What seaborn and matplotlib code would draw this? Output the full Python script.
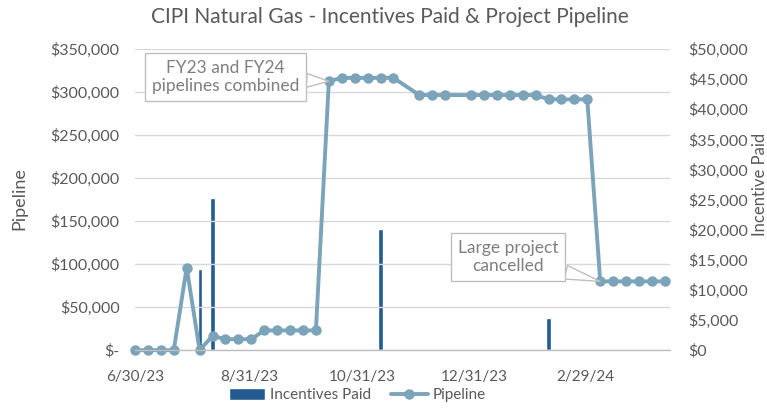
import pandas as pd
import numpy as np
import matplotlib
matplotlib.use('Agg')
import matplotlib.pyplot as plt
import seaborn as sns

# Weekly pipeline snapshots (Fridays)

week_dates = ['2023-06-30', '2023-07-07', '2023-07-14', '2023-07-21',
              '2023-07-28', '2023-08-04', '2023-08-11', '2023-08-18',
              '2023-08-25', '2023-09-01', '2023-09-08', '2023-09-15',
              '2023-09-22', '2023-09-29', '2023-10-06', '2023-10-13',
              '2023-10-20', '2023-10-27', '2023-11-03', '2023-11-10',
              '2023-11-17', '2023-12-01', '2023-12-08', '2023-12-15',
              '2023-12-29', '2024-01-05', '2024-01-12', '2024-01-19',
              '2024-01-26', '2024-02-02', '2024-02-09', '2024-02-16',
              '2024-02-23', '2024-03-01', '2024-03-08', '2024-03-15',
              '2024-03-22', '2024-03-29', '2024-04-05', '2024-04-12']

pipeline = [0, 0, 0, 0,
            96000, 0, 16500, 12800,
            12800, 12800, 23000, 23000,
            23000, 23000, 23000, 312500,
            316500, 316500, 316500, 316500,
            316500, 296500, 296500, 296500,
            296500, 296500, 296500, 296500,
            296500, 296500, 291500, 291500,
            291500, 291500, 80000, 80000,
            80000, 80000, 80000, 80000]

# Incentive payments

paid_dates = ['2023-08-04', '2023-08-11', '2023-11-10', '2024-02-09']
paid = [13400, 25200, 20100, 5300]

tick_dates = ['2023-06-30', '2023-08-31', '2023-10-31', '2023-12-31',
              '2024-02-29']
tick_labels = ['6/30/23', '8/31/23', '10/31/23', '12/31/23', '2/29/24']

df = pd.DataFrame({'date': pd.to_datetime(week_dates), 'Pipeline': pipeline})
dp = pd.DataFrame({'date': pd.to_datetime(paid_dates), 'Incentives Paid': paid})

# %%

sns.set_style('white')
plt.rcParams['font.family'] = ['Lato', 'DejaVu Sans']

grey = '#595959'
line_col = '#7BA3BA'
bar_col = '#245C91'

fig = plt.figure(figsize=(7.67, 4.12), dpi=100)
ax = fig.add_axes([0.176, 0.150, 0.698, 0.731])
ax2 = ax.twinx()

# bars on the secondary axis, line drawn on top
bars = ax2.bar(dp['date'], dp['Incentives Paid'], width=2.2, color=bar_col,
               label='Incentives Paid')
sns.lineplot(data=df, x='date', y='Pipeline', ax=ax, color=line_col,
             linewidth=2.8, marker='o', markersize=7.5, markeredgewidth=0,
             label='Pipeline', legend=False, clip_on=False)

ax.set_zorder(ax2.get_zorder() + 1)
ax.patch.set_visible(False)

ax.set_xlim(pd.Timestamp('2023-06-30'), pd.Timestamp('2024-04-15'))
ax.set_ylim(0, 350000)
ax2.set_ylim(0, 50000)

ax.set_yticks(np.arange(0, 350001, 50000))
ax.set_yticklabels(['$-'] + ['${:,.0f}'.format(v) for v in
                             np.arange(50000, 350001, 50000)])
ax2.set_yticks(np.arange(0, 50001, 5000))
ax2.set_yticklabels(['${:,.0f}'.format(v) for v in np.arange(0, 50001, 5000)])

ax.set_xticks(pd.to_datetime(tick_dates))
ax.set_xticklabels(tick_labels)

ax.grid(axis='y', color='#D9D9D9', linewidth=1)
ax.set_axisbelow(True)

for a in (ax, ax2):
    for s in ['top', 'left', 'right', 'bottom']:
        a.spines[s].set_visible(False)
ax.spines['bottom'].set_visible(True)
ax.spines['bottom'].set_color('#BFBFBF')
ax.spines['bottom'].set_linewidth(1)

ax.tick_params(axis='x', colors='#BFBFBF', labelcolor=grey, labelsize=11,
               direction='inout', length=8, pad=10)
ax.tick_params(axis='y', length=0, labelcolor=grey, labelsize=11.5, pad=11)
ax2.tick_params(axis='y', length=0, labelcolor=grey, labelsize=11.5, pad=13)

ax.set_xlabel('')
ax.set_ylabel('')
ax2.set_ylabel('')

fig.text(0.025, 1 - 199 / 412, 'Pipeline', rotation=90, color=grey,
         fontsize=13, ha='center', va='center')
fig.text(0.991, 1 - 184 / 412, 'Incentive Paid', rotation=90, color=grey,
         fontsize=12, ha='center', va='center')

fig.text(0.508, 1 - 17 / 412, 'CIPI Natural Gas - Incentives Paid & Project Pipeline',
         color=grey, fontsize=15, ha='center', va='center')

# callouts
box = dict(boxstyle='square,pad=0.4', fc='white', ec='#BFBFBF', lw=1)
wedge = dict(arrowstyle='wedge,tail_width=0.8,shrink_factor=0.5',
             fc='white', ec='#BFBFBF', lw=1, shrinkA=0, shrinkB=0)

ax.annotate('FY23 and FY24\npipelines combined',
            xy=(pd.Timestamp(week_dates[15]), pipeline[15]),
            xytext=(0.169, 0.907), textcoords='axes fraction',
            ha='center', va='center', fontsize=12.5, color='#7F7F7F',
            bbox=box, arrowprops=wedge, linespacing=1.15)
ax.annotate('Large project\ncancelled',
            xy=(pd.Timestamp(week_dates[34]), pipeline[34]),
            xytext=(0.697, 0.309), textcoords='axes fraction',
            ha='center', va='center', fontsize=12.5, color='#7F7F7F',
            bbox=box, arrowprops=wedge, linespacing=1.15)

line = ax.get_lines()[0]
fig.legend([bars, line], ['Incentives Paid', 'Pipeline'], ncol=2,
           loc='center', bbox_to_anchor=(357 / 767, 1 - 395 / 412),
           frameon=False, fontsize=11, labelcolor=grey, handlelength=2.4,
           handleheight=0.8, columnspacing=1.3, handletextpad=0.3)

fig.savefig('out.png', dpi=100)
